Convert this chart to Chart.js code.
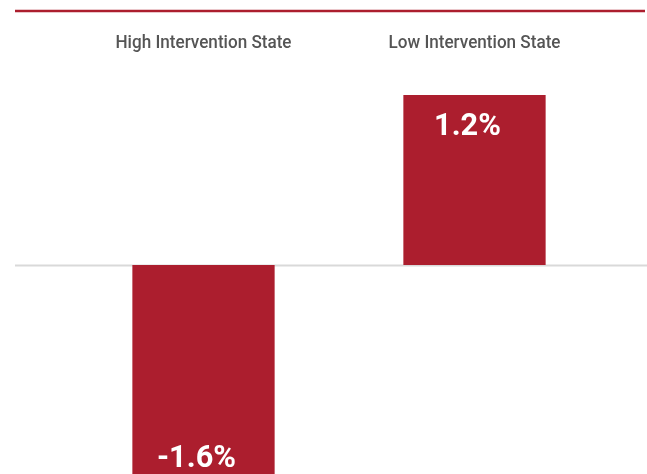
<!DOCTYPE html>
<html>
<head>
<meta charset="utf-8">
<script src="https://cdn.jsdelivr.net/npm/chart.js@4/dist/chart.umd.min.js"></script>
<style>
  html, body { margin: 0; padding: 0; background: #ffffff; }
  #wrap { width: 647px; height: 474px; position: relative; }
</style>
</head>
<body>
<div id="wrap"><canvas id="chart"></canvas></div>
<script>
// Categories and values (percent change)
const categories = ['High Intervention State', 'Low Intervention State'];
const values = [-1.6, 1.2];
const valueLabels = ['-1.6%', '1.2%'];

const RED = '#ac1e2e';
const FONT = "'Liberation Sans Narrow', 'Roboto', sans-serif";

// Draw text squeezed horizontally to mimic a condensed face
function condensedText(ctx, text, x, y, squeeze) {
  ctx.save();
  ctx.translate(x, y);
  ctx.scale(squeeze, 1);
  ctx.fillText(text, 0, 0);
  ctx.restore();
}

// Header rule, zero line, category captions and value labels
const decorations = {
  id: 'decorations',
  beforeDatasetsDraw(chart) {
    const ctx = chart.ctx;
    const y = chart.scales.y;
    const zeroY = Math.round(y.getPixelForValue(0)) + 0.5;
    ctx.save();
    // top rule
    ctx.strokeStyle = RED;
    ctx.lineWidth = 2.5;
    ctx.beginPath();
    ctx.moveTo(15, 11);
    ctx.lineTo(645, 11);
    ctx.stroke();
    // zero baseline
    ctx.strokeStyle = '#d9d9d9';
    ctx.lineWidth = 2;
    ctx.beginPath();
    ctx.moveTo(15, zeroY);
    ctx.lineTo(647, zeroY);
    ctx.stroke();
    // category captions above the plot
    const x = chart.scales.x;
    ctx.fillStyle = '#555555';
    ctx.font = '500 19px ' + FONT;
    ctx.textAlign = 'center';
    ctx.textBaseline = 'alphabetic';
    categories.forEach((c, i) => {
      condensedText(ctx, c, x.getPixelForValue(i), 48, 0.9);
    });
    ctx.restore();
  },
  afterDatasetsDraw(chart) {
    const ctx = chart.ctx;
    const meta = chart.getDatasetMeta(0);
    ctx.save();
    ctx.fillStyle = '#ffffff';
    ctx.font = 'bold 32px ' + FONT;
    ctx.textAlign = 'center';
    ctx.textBaseline = 'alphabetic';
    meta.data.forEach((bar, i) => {
      const v = values[i];
      const base = v >= 0 ? bar.y + 40 : bar.y - 25;
      condensedText(ctx, valueLabels[i], bar.x - 7, base, 0.96);
    });
    ctx.restore();
  }
};

new Chart(document.getElementById('chart'), {
  type: 'bar',
  data: {
    labels: categories,
    datasets: [{
      data: values,
      backgroundColor: RED,
      borderWidth: 0,
      barPercentage: 0.525,
      categoryPercentage: 1.0
    }]
  },
  options: {
    responsive: true,
    maintainAspectRatio: false,
    animation: false,
    layout: { padding: { left: 68, right: 37, top: 52.5, bottom: 0 } },
    plugins: {
      legend: { display: false },
      tooltip: { enabled: false },
      title: { display: false }
    },
    scales: {
      x: { display: false, grid: { display: false } },
      y: { display: false, min: -1.475, max: 1.5, grid: { display: false } }
    }
  },
  plugins: [decorations]
});
</script>
</body>
</html>
